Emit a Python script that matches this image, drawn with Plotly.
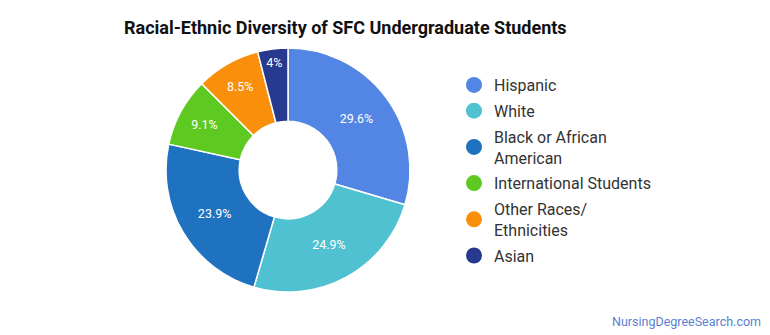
import plotly.graph_objects as go

title = "Racial-Ethnic Diversity of SFC Undergraduate Students"
labels = ["Hispanic", "White", "Black or African American", "International Students",
          "Other Races/ Ethnicities", "Asian"]
legend_labels = ["Hispanic", "White", "Black or African<br>American", "International Students",
                 "Other Races/<br>Ethnicities", "Asian"]
values = [29.6, 24.9, 23.9, 9.1, 8.5, 4.0]
text_labels = ["29.6%", "24.9%", "23.9%", "9.1%", "8.5%", "4%"]
colors = ["#5386E4", "#4FC1D1", "#1F72BF", "#5DC921", "#FA8F0B", "#283A8F"]

W, H = 770, 335
cx, cy, r = 288, 170, 122

fig = go.Figure()
fig.add_trace(go.Pie(
    labels=labels, values=values, text=text_labels, textinfo="text",
    sort=False, direction="clockwise", rotation=0, hole=0.4,
    marker=dict(colors=colors, line=dict(color="white", width=1.5)),
    textposition="inside", insidetextorientation="horizontal",
    textfont=dict(family="Roboto", size=12.5, color="white"),
    domain=dict(x=[(cx - r) / W, (cx + r) / W], y=[(H - cy - r) / H, (H - cy + r) / H]),
    showlegend=False, hoverinfo="label+text",
))
for i, (lab, col) in enumerate(zip(legend_labels, colors)):
    fig.add_trace(go.Scatter(
        x=[None], y=[None], mode="markers", name=lab,
        marker=dict(symbol="circle", size=17, color=col),
        legendgroup=str(i), showlegend=True,
    ))

fig.update_layout(
    width=W, height=H, margin=dict(l=0, r=0, t=0, b=0),
    paper_bgcolor="white", plot_bgcolor="white",
    xaxis=dict(visible=False), yaxis=dict(visible=False),
    title=dict(text="<b>" + title + "</b>", x=124 / W, xanchor="left", y=1 - 28 / H, yanchor="middle",
               font=dict(family="Roboto", size=18, color="#111")),
    legend=dict(x=454 / W, xanchor="left", y=1 - 68 / H, yanchor="top",
                font=dict(family="Roboto", size=16, color="#333"),
                tracegroupgap=2, itemsizing="trace"),
    annotations=[dict(text="NursingDegreeSearch.com", x=763 / W, y=1 - 321 / H, xref="paper", yref="paper",
                      xanchor="right", yanchor="middle", showarrow=False,
                      font=dict(family="Roboto", size=12.5, color="#5B7FD0"))],
)
fig.write_html("out.html")
